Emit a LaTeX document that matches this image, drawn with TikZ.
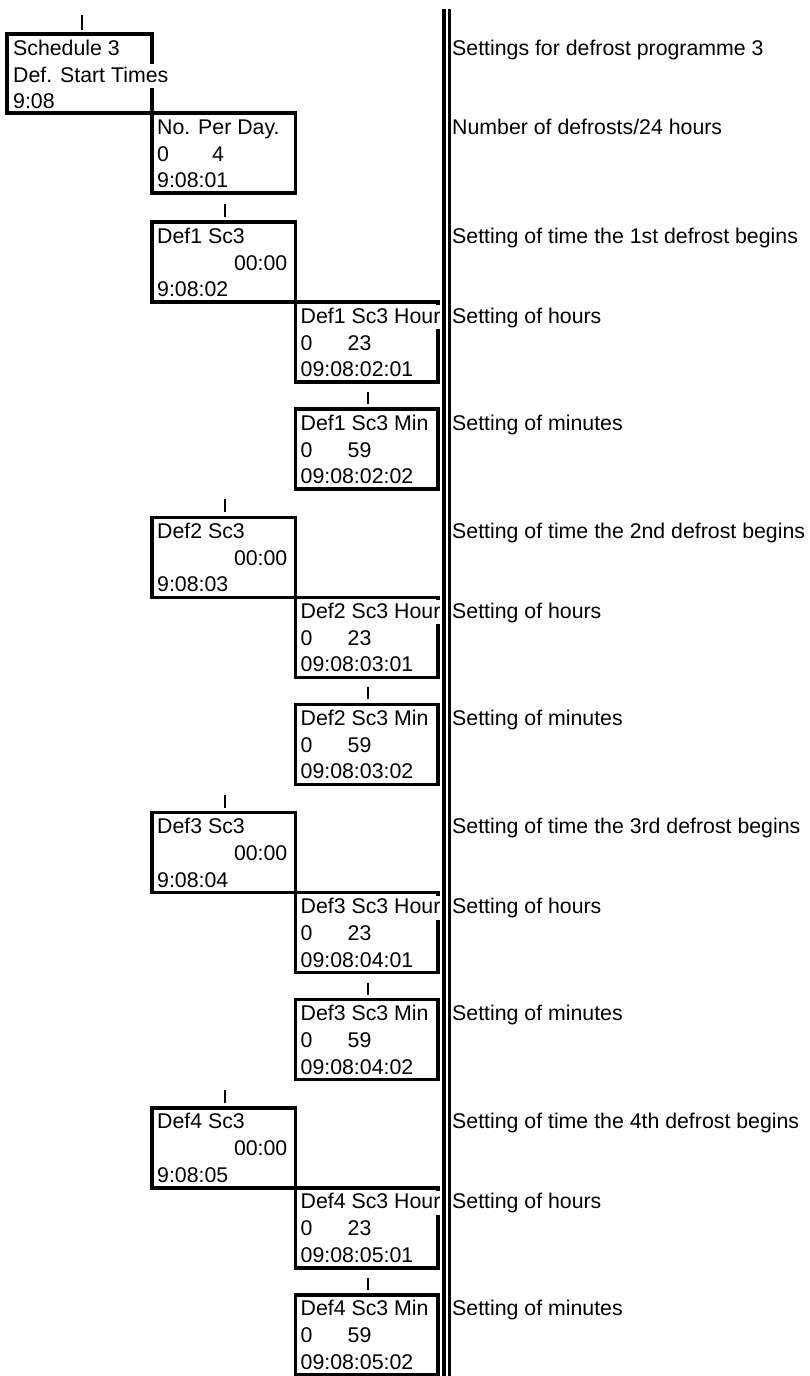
\documentclass[tikz,border=0pt]{standalone}
\usepackage{fontspec}
\setmainfont{Liberation Sans}
\usetikzlibrary{positioning}

\begin{document}
\begin{tikzpicture}[x=1pt, y=-1pt,
    box/.style={rectangle, draw, line width=3.2pt, inner sep=0pt, outer sep=0pt, minimum height=80pt, anchor=north west},
    wide/.style={box, minimum width=143.5pt},
    narrow/.style={box, minimum width=142.5pt},
    entry/.style={inner sep=0pt, anchor=base west, font=\fontsize{21.3}{25}\selectfont},
    gap/.style={entry, fill=white, text height=18pt, text depth=6pt},
    note/.style={inner sep=0pt, anchor=base west, font=\fontsize{21.3}{25}\selectfont},
    tick/.style={line width=1.5pt},
    rail/.style={line width=3.2pt, double, double distance=2pt}]

    \useasboundingbox (0,0) rectangle (810,1376);

    % Separator between menu tree and explanations
    \coordinate (railtop) at (446.5,9);
    \coordinate (railbot) at (446.5,1380);
    \draw[rail] (railtop) -- (railbot);

    % Schedule header and number of defrosts
    \node[box, minimum width=145pt, minimum height=79pt] (sched) at (7,34) {};
    \node[wide] (perday) at (sched.south east) {};
    \draw[tick] ([xshift=2.5pt,yshift=4pt]sched.north) -- ++(0pt,15pt);

    \node[entry] (sched1) at ([xshift=6pt,yshift=-21pt]sched.north west) {Schedule 3};
    \node[gap] (sched2) at ([xshift=6pt,yshift=-48pt]sched.north west) {Def. Start Times};
    \node[entry] (sched3) at ([xshift=6pt,yshift=-74pt]sched.north west) {9:08};
    \node[entry] (perday1) at ([xshift=5pt,yshift=-21pt]perday.north west) {No. Per Day.};
    \node[entry] (perday2) at ([xshift=5pt,yshift=-48pt]perday.north west) {\makebox[55pt][l]{0}4};
    \node[entry] (perday3) at ([xshift=5pt,yshift=-74.5pt]perday.north west) {9:08:01};

    \node[note] (schednote) at (452,55) {Settings for defrost programme 3};
    \node[note] (perdaynote) at (452,134) {Number of defrosts/24 hours};

    % One group per defrost: start time, hours, minutes
    \foreach \n/\ord/\c in {1/1st/02, 2/2nd/03, 3/3rd/04, 4/4th/05} {
        \pgfmathsetmacro\ytop{222+295.3*(\n-1)}
        \node[wide] (def\n) at (152,\ytop) {};
        \node[narrow] (hour\n) at (def\n.south east) {};
        \node[narrow] (min\n) at ([yshift=-27pt]hour\n.south west) {};

        \draw[tick] ([xshift=1pt,yshift=5pt]def\n.north) -- ++(0pt,13pt);
        \draw[tick] ([xshift=1pt,yshift=5pt]min\n.north) -- ++(0pt,12pt);

        \node[entry] (def\n a) at ([xshift=5pt,yshift=-21pt]def\n.north west) {Def\n{} Sc3};
        \node[entry, anchor=base east] (def\n b) at ([xshift=-8pt,yshift=-48pt]def\n.north east) {00:00};
        \node[entry] (def\n c) at ([xshift=5pt,yshift=-74.5pt]def\n.north west) {9:08:\c};

        \node[gap, inner xsep=2pt] (hour\n a) at ([xshift=3pt,yshift=-21pt]hour\n.north west) {Def\n{} Sc3 Hour};
        \node[entry] (hour\n b) at ([xshift=5pt,yshift=-48pt]hour\n.north west) {\makebox[47pt][l]{0}23};
        \node[entry] (hour\n c) at ([xshift=5pt,yshift=-74.5pt]hour\n.north west) {09:08:\c:01};

        \node[entry] (min\n a) at ([xshift=5pt,yshift=-21pt]min\n.north west) {Def\n{} Sc3 Min};
        \node[entry] (min\n b) at ([xshift=5pt,yshift=-48pt]min\n.north west) {\makebox[47pt][l]{0}59};
        \node[entry] (min\n c) at ([xshift=5pt,yshift=-74.5pt]min\n.north west) {09:08:\c:02};

        \node[note] (def\n note) at (452,\ytop+21) {Setting of time the \ord{} defrost begins};
        \node[note] (hour\n note) at (452,\ytop+101) {Setting of hours};
        \node[note] (min\n note) at (452,\ytop+208) {Setting of minutes};
    }
\end{tikzpicture}
\end{document}
